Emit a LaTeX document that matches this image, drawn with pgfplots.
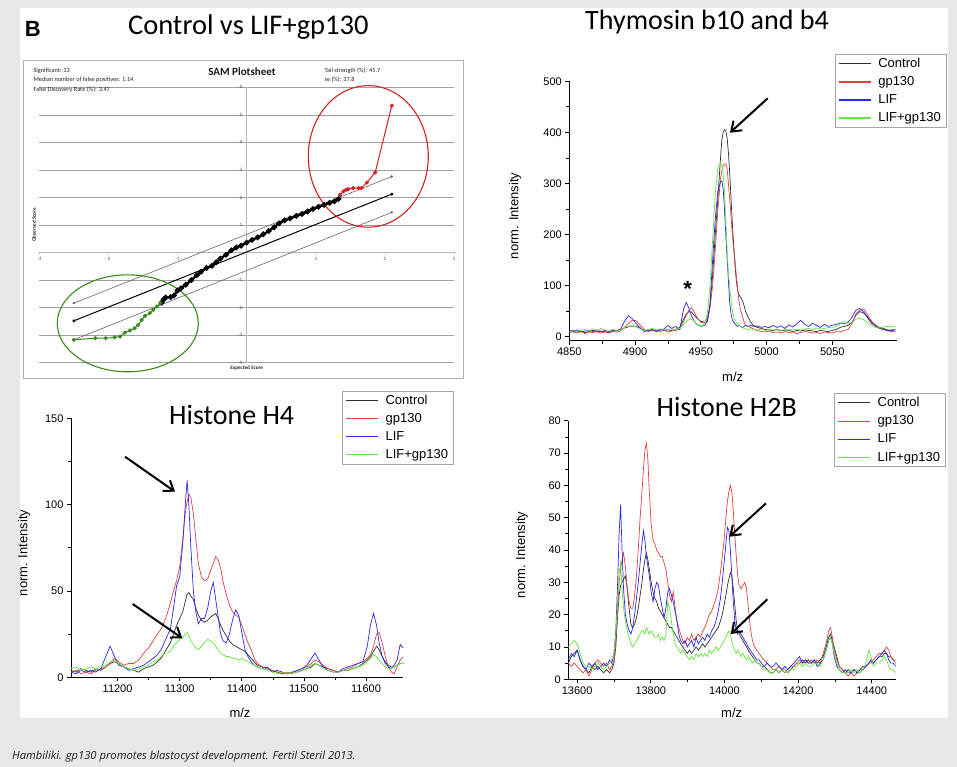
\documentclass[border=0pt]{standalone}
\usepackage{fontspec}
\setmainfont{Liberation Sans}
\newfontfamily\calibri{Carlito}
\newfontfamily\capfont{Open Sans}
\usepackage{pgfplots}
\pgfplotsset{compat=1.18}
\usepackage{pgfplotstable}
\usetikzlibrary{arrows.meta}

\definecolor{bggray}{HTML}{E7E8EA}
\definecolor{cctrl}{HTML}{303030}
\definecolor{cred}{HTML}{E34040}
\definecolor{cblue}{HTML}{2828F0}
\definecolor{cgreen}{HTML}{62E838}
\definecolor{samred}{HTML}{D92020}
\definecolor{samgreen}{HTML}{3A8A1E}

\pgfplotstableread{
x c g l lg
4850 10 8 12 9
4853 12 9 10 11
4856 9 7 13 10
4859 11 10 9 12
4862 8 6 11 14
4865 10 9 12 11
4868 12 8 10 15
4871 9 10 13 12
4874 11 7 9 16
4877 10 9 12 13
4880 8 7 10 11
4883 11 10 12 14
4886 12 9 11 12
4889 14 11 15 13
4892 17 18 30 18
4895 19 25 41 20
4898 21 32 35 21
4901 20 31 25 19
4904 16 22 17 15
4907 12 14 10 12
4910 11 10 12 14
4913 13 12 14 16
4916 12 11 10 13
4919 14 10 13 15
4922 12 13 15 14
4925 13 9 22 15
4928 12 11 16 13
4931 14 12 20 14
4934 18 15 14 16
4937 35 30 55 24
4939 44 42 67 30
4941 49 52 55 33
4943 48 57 40 34
4945 42 48 30 30
4947 36 38 24 25
4950 30 28 20 20
4953 28 27 22 25
4955 35 30 30 45
4957 60 55 65 100
4959 120 100 150 190
4961 200 170 230 280
4963 270 250 285 330
4965 350 310 303 340
4966 385 325 305 335
4967 400 335 290 320
4968 405 338 250 285
4969 403 338 200 229
4970 390 330 155 170
4971 360 300 110 125
4972 320 270 65 98
4973 270 235 45 70
4974 220 200 33 50
4975 180 170 28 40
4976 140 150 25 32
4977 110 120 22 28
4978 90 95 20 25
4979 82 70 22 22
4980 78 55 20 20
4981 74 45 19 18
4982 68 37 18 17
4983 60 28 20 16
4984 50 22 22 15
4986 38 20 20 14
4988 28 18 22 15
4990 22 15 20 14
4993 18 12 21 13
4996 16 10 18 15
4999 14 9 20 12
5002 13 11 17 14
5005 12 8 22 13
5008 14 9 18 15
5011 11 7 21 12
5014 13 10 16 14
5017 12 8 23 13
5020 10 9 19 15
5023 12 6 25 14
5026 11 8 32 13
5029 13 10 24 15
5032 12 9 20 16
5035 11 7 26 14
5038 10 8 22 17
5041 12 6 18 15
5044 11 9 24 16
5047 10 8 20 18
5050 12 7 22 17
5053 14 10 24 20
5056 18 9 26 25
5059 20 12 25 30
5062 22 14 28 26
5065 28 25 38 28
5068 42 45 52 34
5071 49 52 55 36
5074 46 54 48 33
5077 38 42 36 28
5080 28 30 26 22
5083 22 22 20 18
5086 18 16 16 17
5089 16 14 14 19
5092 13 11 12 20
5095 12 10 13 19
5098 11 9 14 20
}\thy

\pgfplotstableread{
x c g l lg
11125 4 3 3 5
11133 3 4 2 6
11141 5 2 4 4
11149 4 3 3 5
11157 3 2 4 6
11165 5 4 3 5
11173 4 5 5 6
11181 6 6 12 7
11188 8 8 18 9
11195 9 11 12 10
11202 8 9 7 8
11210 6 7 6 6
11218 5 8 4 5
11226 4 8 5 4
11234 3 10 6 5
11242 5 14 7 6
11250 6 17 9 7
11257 7 21 11 9
11264 9 25 13 10
11270 11 28 16 12
11275 14 32 20 14
11280 17 37 24 14
11285 20 43 28 15
11290 25 50 40 18
11295 30 56 53 20
11300 34 64 58 22
11305 38 80 78 23
11309 44 95 100 25
11312 48 102 114 26
11315 49 106 98 24
11318 47 104 75 21
11322 45 95 50 19
11326 40 80 38 17
11330 36 66 31 16
11335 33 58 34 18
11340 32 56 34 20
11345 33 57 40 22
11350 35 62 50 21
11354 36 66 55 20
11358 37 70 45 18
11362 34 68 35 16
11366 30 63 25 14
11370 27 55 21 13
11375 24 48 20 12
11380 21 42 25 12
11385 19 38 33 11
11390 18 36 39 11
11395 17 35 36 10
11400 16 30 26 11
11405 15 25 16 10
11410 13 20 12 9
11415 11 16 9 8
11420 9 11 7 7
11425 7 8 6 6
11433 6 6 5 5
11441 5 5 6 4
11449 4 4 3 3
11457 3 3 4 2
11465 2 2 3 3
11473 2 3 2 2
11481 3 2 3 3
11489 3 4 4 3
11497 4 5 5 4
11505 5 6 7 5
11512 6 8 11 7
11518 8 10 14 8
11524 7 9 10 7
11531 6 7 6 5
11539 5 5 4 4
11547 4 4 3 3
11555 3 3 3 3
11563 4 4 5 4
11571 4 5 6 4
11579 5 6 7 5
11587 6 8 8 6
11595 8 9 9 7
11602 10 11 18 9
11607 12 13 30 11
11612 15 18 37 13
11617 18 25 30 12
11621 16 26 20 10
11626 12 20 12 8
11631 9 12 8 6
11636 7 6 6 5
11641 6 3 5 5
11645 6 2 7 6
11650 7 6 10 7
11655 8 10 19 8
11660 8 12 17 8
}\hfour

\pgfplotstableread{
x c g l lg
13576 5 5 6 10
13584 7 4 8 11
13592 8 5 7 12
13600 9 4 9 11
13608 6 3 6 8
13616 4 2 4 5
13624 3 3 3 4
13632 2 1 5 4
13640 4 3 4 3
13648 3 5 5 4
13656 4 6 3 5
13664 3 5 4 4
13672 2 4 5 3
13680 3 5 4 4
13688 2 3 6 5
13694 3 4 5 6
13700 5 6 8 8
13705 10 12 15 14
13710 20 22 30 25
13714 26 30 45 33
13718 29 34 54 36
13722 30 37 40 28
13726 31 39 28 22
13731 32 35 20 18
13736 28 28 17 15
13741 22 24 15 13
13746 17 22 14 11
13751 16 22 16 10
13756 17 26 20 11
13761 19 32 25 12
13766 22 40 30 13
13771 26 50 36 14
13776 30 58 42 15
13780 34 65 46 15
13784 37 71 43 14
13788 39 73 38 16
13792 37 68 35 15
13796 34 58 32 14
13801 30 48 27 15
13806 27 43 24 14
13811 25 42 28 13
13816 24 40 30 13
13821 22 39 29 14
13826 21 38 25 12
13831 20 38 22 13
13836 19 36 19 12
13841 18 34 22 14
13846 17 30 27 24
13851 16 26 28 22
13856 16 24 26 18
13861 15 27 24 14
13866 14 22 21 11
13871 13 18 18 10
13876 12 16 14 9
13881 11 14 12 8
13887 10 12 11 9
13893 9 11 12 8
13899 8 13 10 7
13905 9 12 11 6
13911 8 14 12 7
13917 9 12 10 6
13923 10 13 13 8
13929 9 14 11 7
13935 10 13 12 8
13941 11 15 13 7
13947 10 16 12 8
13953 11 18 14 7
13959 12 20 13 9
13965 13 21 15 8
13971 14 23 16 9
13977 15 25 18 10
13983 16 28 21 9
13989 18 33 25 10
13994 20 38 30 11
13999 23 43 36 12
14004 26 50 42 13
14008 29 55 47 14
14012 31 58 46 15
14016 33 60 40 14
14020 32 58 32 12
14024 28 52 24 10
14028 23 45 18 9
14032 18 38 15 8
14036 15 32 14 9
14040 14 29 15 8
14045 13 28 14 7
14050 12 29 13 8
14055 11 30 12 7
14060 10 28 11 6
14065 9 22 10 7
14070 8 16 9 6
14076 7 12 8 5
14082 6 10 7 6
14088 5 9 6 5
14094 5 8 6 5
14100 4 7 5 4
14108 4 6 4 3
14116 3 5 5 3
14124 2 4 4 2
14132 2 3 4 2
14140 3 3 5 3
14148 2 4 4 2
14156 3 3 3 3
14164 3 2 4 3
14172 2 3 3 2
14180 3 4 4 3
14188 4 4 5 3
14196 5 5 6 4
14204 5 6 7 5
14212 6 5 5 4
14220 5 6 6 5
14228 6 5 5 4
14236 5 6 5 4
14244 6 5 6 5
14252 5 6 4 5
14260 6 5 5 4
14268 7 8 6 6
14276 10 11 9 9
14283 13 15 12 12
14288 14 16 13 13
14293 12 13 11 11
14298 10 9 7 8
14305 7 6 4 5
14312 4 4 3 3
14320 3 3 2 2
14328 2 2 3 2
14336 3 1 2 2
14344 2 2 2 3
14352 3 1 3 2
14360 2 2 2 3
14368 3 2 3 2
14376 4 3 3 3
14384 4 4 4 5
14392 5 5 5 9
14398 6 5 6 7
14404 5 6 5 4
14412 6 7 6 5
14420 7 8 7 5
14428 7 8 8 6
14434 8 9 9 7
14440 8 10 8 6
14446 7 9 6 4
14452 7 7 5 3
14458 6 6 5 3
14465 6 5 4 2
}\htwob

\pgfplotsset{
  spec/.style={
    scale only axis,
    axis lines=left,
    axis line style={-, line width=0.8pt},
    tick align=outside,
    major tick length=4pt,
    minor tick length=3pt,
    every tick/.style={black, line width=0.7pt},
    tick label style={font=\fontsize{11}{11}\selectfont},
    scaled x ticks=false, scaled y ticks=false,
    /pgf/number format/assume math mode=true,
    /pgf/number format/1000 sep={},
    legend cell align=left,
    legend style={draw=gray!70, font=\fontsize{13}{14}\selectfont, inner xsep=3pt, inner ysep=4pt, row sep=7.5pt, anchor=north west,
      nodes={inner xsep=2pt, inner ysep=0pt},
      /tikz/every odd column/.append style={column sep=5pt}},
    legend image code/.code={\draw[#1, line width=1.1pt] (0pt,0pt) -- (32pt,0pt);},
  },
  sp/.style={line width=0.7pt},
}

\begin{document}
\begin{tikzpicture}[x=1pt,y=1pt]
\useasboundingbox (0,0) rectangle (957,767);
\fill[bggray] (0,0) rectangle (957,767);
\fill[white] (20,49) rectangle (948,759);

% ---------- Panel B: SAM plot ----------
\node[font=\bfseries\fontsize{22}{22}\selectfont] at (32.7,737.7) {B};
\node[font=\calibri\fontsize{28.5}{28.5}\selectfont] at (248.3,739.7) {Control vs LIF+gp130};
\draw[gray!60, line width=0.9pt] (23,389) rectangle (463,707);

\begin{axis}[
  at={(39.3pt,404.3pt)}, anchor=south west,
  scale only axis, width=414.7pt, height=275.4pt,
  xmin=-3, xmax=3, ymin=-4, ymax=6,
  axis x line=middle, axis y line=middle,
  axis line style={-, gray!55, line width=0.6pt},
  xtick={-3,...,3}, ytick={-4,...,6},
  ymajorgrids, grid style={gray!75, line width=0.6pt},
  major tick length=2pt, every tick/.style={gray!60},
  tick label style={font=\calibri\fontsize{5}{5}\selectfont, text=gray!60!black},
  /pgf/number format/assume math mode=true,
  clip=false,
]
\addplot[gray!80!black, line width=0.6pt, mark=*, mark size=0.9pt] coordinates {(-2.5,-1.84) (2.1,2.76)};
\addplot[black, line width=1pt, mark=*, mark size=0.9pt] coordinates {(-2.5,-2.48) (2.1,2.12)};
\addplot[gray!80!black, line width=0.6pt, mark=*, mark size=0.9pt] coordinates {(-2.5,-3.17) (2.1,1.46)};
\addplot[black, line width=2.3pt, mark=*, mark size=1.5pt] coordinates {
(-1.23,-1.82) (-1.20,-1.70) (-1.17,-1.63) (-1.10,-1.62) (-1.05,-1.56) (-1.00,-1.38)
(-0.95,-1.30) (-0.88,-1.17) (-0.80,-1.00) (-0.72,-0.82) (-0.66,-0.70) (-0.58,-0.56)
(-0.50,-0.48) (-0.44,-0.35) (-0.38,-0.22) (-0.30,-0.08) (-0.22,0.08) (-0.15,0.18)
(-0.08,0.25) (0.00,0.36) (0.08,0.46) (0.16,0.55) (0.24,0.66) (0.32,0.78) (0.40,0.92)
(0.47,1.06) (0.55,1.17) (0.63,1.24) (0.72,1.33) (0.80,1.40) (0.88,1.49) (0.96,1.58)
(1.04,1.66) (1.12,1.73) (1.20,1.80) (1.27,1.86) (1.33,1.95)};
\addplot[samgreen, line width=1pt, mark=*, mark size=1.5pt] coordinates {
(-2.50,-3.17) (-2.19,-3.11) (-2.04,-3.11) (-1.91,-3.08) (-1.83,-3.05) (-1.76,-2.91)
(-1.69,-2.83) (-1.62,-2.75) (-1.57,-2.63) (-1.52,-2.45) (-1.47,-2.30) (-1.40,-2.20)
(-1.35,-2.08) (-1.30,-1.96) (-1.25,-1.84)};
\addplot[samred, line width=1pt, mark=*, mark size=1.5pt] coordinates {
(1.35,2.09) (1.40,2.22) (1.44,2.28) (1.47,2.30) (1.54,2.34) (1.62,2.34) (1.66,2.34)
(1.74,2.54) (1.86,2.91) (2.10,5.33)};
\draw[samred, line width=1.1pt] (axis cs:1.76,3.49) ellipse [x radius=0.868, y radius=2.57];
\draw[samgreen, line width=1.1pt] (axis cs:-1.72,-2.57) ellipse [x radius=1.02, y radius=1.76];
\end{axis}
\node[anchor=west, font=\calibri\fontsize{6.3}{6.3}\selectfont, text=gray!30!black] at (30,696.3) {Significant: 33};
\node[anchor=west, font=\calibri\fontsize{6.3}{6.3}\selectfont, text=gray!30!black] at (30,686.8) {Median number of false positives: 1.14};
\node[anchor=west, font=\calibri\fontsize{6.3}{6.3}\selectfont, text=gray!30!black] at (30,677) {False Discovery Rate (\%): 3.47};
\node[font=\calibri\bfseries\fontsize{11}{11}\selectfont, text=gray!20!black] at (242,695) {SAM Plotsheet};
\node[anchor=west, font=\calibri\fontsize{6.3}{6.3}\selectfont, text=gray!30!black] at (321,696.3) {Tail strength (\%): 45.7};
\node[anchor=west, font=\calibri\fontsize{6.3}{6.3}\selectfont, text=gray!30!black] at (321,687.5) {se (\%): 37.8};
\node[rotate=90, font=\calibri\bfseries\fontsize{5.2}{5.2}\selectfont, text=gray!30!black] at (34,542) {Observed Score};
\node[font=\calibri\bfseries\fontsize{5.2}{5.2}\selectfont, text=gray!30!black] at (246.7,399) {Expected Score};

% ---------- Thymosin ----------
\node[font=\calibri\fontsize{28}{28}\selectfont] at (707,745) {Thymosin b10 and b4};
\begin{axis}[spec,
  at={(569.3pt,426.3pt)}, anchor=south west,
  width=327.4pt, height=259.4pt,
  xmin=4850, xmax=5099, ymin=-8, ymax=500,
  xtick={4850,4900,...,5050}, minor x tick num=1,
  ytick={0,100,...,500}, minor y tick num=1,
  legend style={at={(0.8115,1.105)}},
]
\addplot[cctrl, sp] table[x=x,y=c]{\thy};
\addplot[cred, sp] table[x=x,y=g]{\thy};
\addplot[cblue, sp] table[x=x,y=l]{\thy};
\addplot[cgreen, sp] table[x=x,y=lg]{\thy};
\legend{Control,gp130,LIF,LIF+gp130}
\end{axis}
\node[rotate=90, font=\fontsize{13}{13}\selectfont] at (515,551.2) {norm. Intensity};
\node[font=\fontsize{13}{13}\selectfont] at (732.7,390.3) {m/z};
\node[font=\bfseries\fontsize{22}{22}\selectfont] at (687.7,478) {*};
\draw[line width=2pt, -{Straight Barb[length=9pt,width=13pt]}] (767.7,668.7) -- (730,634.3);

% ---------- Histone H4 ----------
\node[font=\calibri\fontsize{28}{28}\selectfont] at (231.7,352) {Histone H4};
\begin{axis}[spec,
  at={(71pt,89.7pt)}, anchor=south west,
  width=332.3pt, height=259pt,
  xmin=11125, xmax=11660, ymin=0, ymax=150,
  xtick={11200,11300,...,11600}, minor x tick num=1,
  ytick={0,50,100,150}, minor y tick num=1,
  legend style={at={(0.8164,1.1054)}},
]
\addplot[cctrl, sp] table[x=x,y=c]{\hfour};
\addplot[cred, sp] table[x=x,y=g]{\hfour};
\addplot[cblue, sp] table[x=x,y=l]{\hfour};
\addplot[cgreen, sp] table[x=x,y=lg]{\hfour};
\legend{Control,gp130,LIF,LIF+gp130}
\end{axis}
\node[rotate=90, font=\fontsize{13}{13}\selectfont] at (24,214) {norm. Intensity};
\node[font=\fontsize{13}{13}\selectfont] at (240,54) {m/z};
\draw[line width=2pt, -{Straight Barb[length=9pt,width=13pt]}] (125,310.3) -- (175,275.3);
\draw[line width=2pt, -{Straight Barb[length=9pt,width=13pt]}] (132.7,163) -- (182.3,128.7);

% ---------- Histone H2B ----------
\node[font=\calibri\fontsize{28}{28}\selectfont] at (726.7,359.7) {Histone H2B};
\begin{axis}[spec,
  at={(568.3pt,87.7pt)}, anchor=south west,
  width=327.4pt, height=258.6pt,
  xmin=13576, xmax=14465, ymin=0, ymax=80,
  xtick={13600,13800,...,14400}, minor x tick num=1,
  ytick={0,10,...,80}, minor y tick num=1,
  legend style={at={(0.8125,1.106)}},
]
\addplot[cctrl, sp] table[x=x,y=c]{\htwob};
\addplot[cred, sp] table[x=x,y=g]{\htwob};
\addplot[cblue, sp] table[x=x,y=l]{\htwob};
\addplot[cgreen, sp] table[x=x,y=lg]{\htwob};
\legend{Control,gp130,LIF,LIF+gp130}
\end{axis}
\node[rotate=90, font=\fontsize{13}{13}\selectfont] at (521.7,212) {norm. Intensity};
\node[font=\fontsize{13}{13}\selectfont] at (731.7,53.7) {m/z};
\draw[line width=2pt, -{Straight Barb[length=9pt,width=13pt]}] (766,263.7) -- (729.3,230.3);
\draw[line width=2pt, -{Straight Barb[length=9pt,width=13pt]}] (767.3,167.7) -- (730.7,133);

% ---------- caption ----------
\node[anchor=west, font=\capfont\itshape\fontsize{11.2}{11.2}\selectfont, text=gray!25!black, inner sep=0pt] at (12,10) {Hambiliki. gp130 promotes blastocyst development. Fertil Steril 2013.};
\end{tikzpicture}
\end{document}
